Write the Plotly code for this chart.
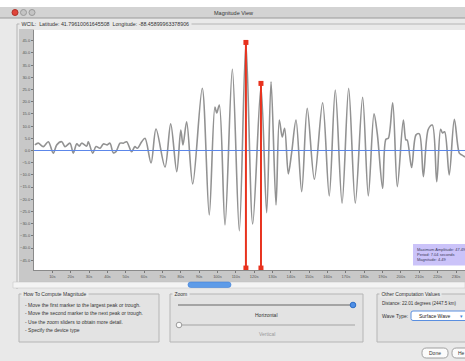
import plotly.graph_objects as go

# ---- data ----
wave_t = [0.5, 2.3, 5.1, 7.8, 10.5, 12.4, 15.1, 16.9, 19.6, 21.4,
          23.3, 24.7, 26.0, 28.7, 29.6, 32.0, 33.8, 36.0, 37.8, 39.9,
          41.4, 43.2, 44.7, 46.9, 48.7, 50.5, 53.2, 55.0, 56.3, 58.7,
          60.5, 63.8, 66.5, 71.4, 74.5, 77.8, 80.0, 81.2, 83.2, 86.5,
          91.7, 95.5, 98.6, 99.6, 101.0, 104.1, 108.1, 111.9, 115.5, 119.2,
          123.7, 126.8, 129.2, 131.9, 133.7, 135.3, 136.6, 138.6, 140.4, 142.8,
          145.9, 148.9, 152.8, 157.3, 160.9, 164.2, 167.9, 171.5, 175.1, 179.1,
          182.2, 185.3, 187.1, 190.0, 191.8, 193.1, 195.5, 198.0, 201.3, 202.7,
          203.4, 205.8, 208.2, 210.0, 212.2, 214.9, 217.1, 219.5, 221.6, 222.6,
          223.8, 226.3, 229.1, 231.8, 233.1, 234.9]
wave_a = [2.3, 3.0, 1.6, 3.6, -1.1, 2.3, 3.6, 1.6, 3.0, -1.1,
          2.7, 1.8, 3.0, 1.8, 3.6, -1.1, 1.6, 0.9, 2.7, 2.3,
          3.0, -0.9, -0.5, 3.0, 3.0, 3.6, -0.5, 1.6, 0.9, 3.6,
          5.0, -5.1, 8.8, -6.8, 10.9, -8.7, 8.4, 2.3, 11.8, -13.7,
          25.5, -26.4, 17.8, 15.4, 18.6, -30.5, 33.3, -32.9, 44.0, -30.1,
          26.1, -25.5, 28.2, -22.3, 12.5, 5.5, 9.1, -9.6, -1.0, 12.5,
          -16.9, 17.3, -11.8, 19.6, -18.6, 24.8, -21.6, 25.5, -21.6, 21.8,
          -18.6, 15.0, 6.8, -15.5, 4.6, 5.0, 19.6, -14.8, 12.5, 4.3,
          4.3, -7.0, 6.4, 6.8, -10.7, 8.7, 10.4, -12.8, 8.7, 7.2,
          7.7, -10.0, 12.8, -1.1, -1.8, -2.7]

marker_t = [115.5, 123.7]
marker_top = [44.3, 27.5]
marker_bottom = -48.2

y_ticks = [-45, -40, -35, -30, -25, -20, -15, -10, -5, 0, 5, 10, 15, 20, 25, 30, 35, 40, 45]
x_ticks = [10, 20, 30, 40, 50, 60, 70, 80, 90, 100, 110, 120, 130, 140, 150, 160, 170, 180, 190, 200, 210, 220, 230]
x_ticktext = [f"{v}s" for v in x_ticks]

info_lines = ["Maximum Amplitude: 47.49", "Period: 7.04 seconds", "Magnitude: 4.49"]
help_lines = ["- Move the first marker to the largest peak or trough.",
              "- Move the second marker to the next peak or trough.",
              "- Use the zoom sliders to obtain more detail.",
              "- Specify the device type"]
station_text = "WCIL:  Latitude: 41.79610061645508  Longitude: -88.45899963378906"

W, H = 465, 361
FONT = "Liberation Sans"


def X(p):
    return p / W


def Y(p):
    return 1 - p / H


def rect(x0, y0, x1, y1, fill, line=None, lw=1, layer="below"):
    return dict(type="rect", xref="paper", yref="paper", x0=X(x0), x1=X(x1), y0=Y(y1), y1=Y(y0),
                fillcolor=fill, line=dict(color=line or fill, width=lw if line else 0), layer=layer)


def hline(x0, x1, y, color, w=1, layer="below"):
    return dict(type="line", xref="paper", yref="paper", x0=X(x0), x1=X(x1), y0=Y(y), y1=Y(y),
                line=dict(color=color, width=w), layer=layer)


def vline(x, y0, y1, color, w=1, layer="below"):
    return dict(type="line", xref="paper", yref="paper", x0=X(x), x1=X(x), y0=Y(y0), y1=Y(y1),
                line=dict(color=color, width=w), layer=layer)


def rrect(x0, y0, x1, y1, r, fill, line, lw=1, layer="above"):
    p = (f"M {X(x0+r)},{Y(y0)} L {X(x1-r)},{Y(y0)} Q {X(x1)},{Y(y0)} {X(x1)},{Y(y0+r)} "
         f"L {X(x1)},{Y(y1-r)} Q {X(x1)},{Y(y1)} {X(x1-r)},{Y(y1)} L {X(x0+r)},{Y(y1)} "
         f"Q {X(x0)},{Y(y1)} {X(x0)},{Y(y1-r)} L {X(x0)},{Y(y0+r)} Q {X(x0)},{Y(y0)} {X(x0+r)},{Y(y0)} Z")
    return dict(type="path", xref="paper", yref="paper", path=p, fillcolor=fill,
                line=dict(color=line, width=lw), layer=layer)


def circ(cx, cy, r, fill, line, layer="above"):
    return dict(type="circle", xref="paper", yref="paper", x0=X(cx - r), x1=X(cx + r),
                y0=Y(cy + r), y1=Y(cy - r), fillcolor=fill, line=dict(color=line, width=1), layer=layer)


def txt(x, y, s, size=5, color="#333333", anchor="left", bg=None):
    d = dict(xref="paper", yref="paper", x=X(x), y=Y(y), text=s, showarrow=False,
             xanchor=anchor, yanchor="middle", font=dict(family=FONT, size=size, color=color))
    if bg:
        d["bgcolor"] = bg
        d["borderpad"] = 0
    return d


fig = go.Figure()
fig.add_trace(go.Scatter(x=wave_t, y=wave_a, mode="lines",
                         line=dict(color="#929292", width=1.6, shape="spline", smoothing=0.9),
                         hoverinfo="skip"))
fig.add_trace(go.Scatter(x=[0, 240], y=[0, 0], mode="lines",
                         line=dict(color="#5b86ea", width=1), hoverinfo="skip"))
for t, top in zip(marker_t, marker_top):
    fig.add_trace(go.Scatter(x=[t, t], y=[top, marker_bottom], mode="lines+markers",
                             line=dict(color="#e8321e", width=2),
                             marker=dict(symbol="square", size=5, color="#e8321e"),
                             cliponaxis=False, hoverinfo="skip"))

shapes = []
BG = "#e9e9e9"
# white top strip and title bar
shapes.append(rect(0, 0, W, 7, "#ffffff"))
shapes.append(rect(0, 7, W, 18, "#d3d3d3"))
shapes.append(hline(0, W, 18, "#9a9a9a", 1))
shapes.append(circ(15, 12.5, 3, "#e0443a", "#b03028", layer="below"))
shapes.append(circ(23.5, 12.5, 3, "#c4c4c4", "#9a9a9a", layer="below"))
shapes.append(circ(32, 12.5, 3, "#c4c4c4", "#9a9a9a", layer="below"))
# station group box
shapes.append(hline(17, W, 24, "#b5b5b5"))
shapes.append(vline(17, 24, 289, "#b5b5b5"))
# axis panels
shapes.append(rect(19, 29, 34, 280, "#c8c8c8"))
shapes.append(rect(19, 270, W, 280, "#c8c8c8"))
shapes.append(hline(19, W, 281, "#a8a8a8"))
# scrollbar
shapes.append(rect(13, 282, W, 288, "#f4f4f4", "#c0c0c0", 0.5))
shapes.append(rrect(188, 282, 231, 287.5, 2.7, "#5d9be8", "#3f7fd6", 0.6, layer="below"))
# lower group boxes
shapes.append(rect(19, 294, 159, 342, "#e3e3e3", "#b5b5b5", 1))
shapes.append(rect(170, 294, 363, 342, "#e3e3e3", "#b5b5b5", 1))
shapes.append(rect(377, 294, W + 2, 342, "#e3e3e3", "#b5b5b5", 1))
# zoom sliders
shapes.append(hline(178, 353, 305, "#8f8f8f", 1.5))
shapes.append(hline(178, 355, 325, "#b8b8b8", 1.5))
shapes.append(circ(353, 305, 2.8, "#4f8fe6", "#2f6fc6"))
shapes.append(circ(179, 325, 2.8, "#fafafa", "#9a9a9a"))
# dropdown and buttons
shapes.append(rrect(411, 311, W + 4, 320.5, 2, "#ffffff", "#5a8fe0", 1))
shapes.append(rrect(422, 348, 448, 358, 4.5, "#fbfbfb", "#8a8a8a", 0.8))
shapes.append(rrect(452, 348, W + 6, 358, 4.5, "#fbfbfb", "#8a8a8a", 0.8))
# info box inside plot
shapes.append(rect(413, 244, W + 2, 265.5, "#cbc3f9", layer="above"))

ann = []
ann.append(txt(233, 12.5, "Magnitude View", 5.5, "#333333", "center"))
ann.append(txt(19, 24, "&nbsp;" + station_text + "&nbsp;", 5.3, "#333333", "left", BG))
for i, s in enumerate(info_lines):
    ann.append(txt(415, 249.5 + i * 5.1, s, 4, "#3a3a5a"))
ann.append(txt(21, 294, "&nbsp;How To Compute Magnitude&nbsp;", 5, "#333333", "left", BG))
for i, s in enumerate(help_lines):
    ann.append(txt(22.5, 305 + i * 8.3, s, 5, "#333333"))
ann.append(txt(172, 294, "&nbsp;Zoom&nbsp;", 5, "#333333", "left", BG))
ann.append(txt(266.5, 315, "Horizontal", 5, "#333333", "center"))
ann.append(txt(266.5, 334, "Vertical", 5, "#9a9a9a", "center"))
ann.append(txt(379, 294, "&nbsp;Other Computation Values&nbsp;", 5, "#333333", "left", BG))
ann.append(txt(380, 303, "Distance: 22.01 degrees (2447.5 km)", 4.5, "#333333"))
ann.append(txt(380, 316, "Wave Type:", 5, "#333333"))
ann.append(txt(417, 316, "Surface Wave", 5, "#222222"))
ann.append(txt(461, 316, "&#9662;", 5, "#3f7fd6", "center"))
ann.append(txt(435, 353, "Done", 5, "#333333", "center"))
ann.append(txt(456, 353, "He", 5, "#333333", "left"))

fig.update_layout(
    width=W, height=H, margin=dict(l=0, r=0, t=0, b=0),
    paper_bgcolor=BG, plot_bgcolor="#ffffff", showlegend=False,
    font=dict(family=FONT, size=4, color="#555555"),
    xaxis=dict(domain=[X(34), 1], range=[0, 234.9], tickvals=x_ticks, ticktext=x_ticktext,
               ticks="outside", ticklen=2, tickcolor="#777777", tickfont=dict(size=4, color="#555555"),
               showgrid=False, zeroline=False, showline=True, linecolor="#8a8a8a", linewidth=1),
    yaxis=dict(domain=[Y(270), Y(30)], range=[-49, 49.4], tickvals=y_ticks, tickformat=".1f",
               ticks="outside", ticklen=2, tickcolor="#777777", tickfont=dict(size=4, color="#555555"),
               showgrid=False, zeroline=False, showline=True, linecolor="#8a8a8a", linewidth=1),
    shapes=shapes, annotations=ann,
)

fig.write_html("out.html")
